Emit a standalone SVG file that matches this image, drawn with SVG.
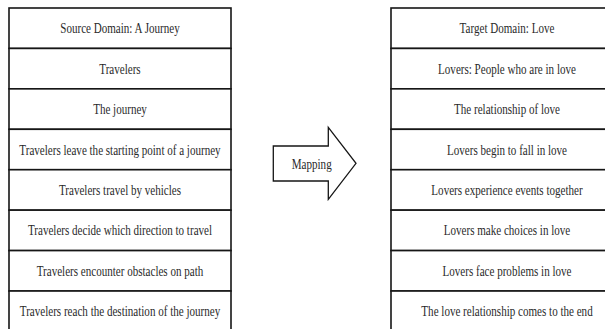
<svg xmlns="http://www.w3.org/2000/svg" width="605" height="329" viewBox="0 0 605 329">
  <style>
    .cell { fill: #ffffff; stroke: #161616; stroke-width: 1.6; }
    .lbl { font-family: 'Liberation Serif', 'DejaVu Serif', serif; font-size: 14px; text-anchor: middle; fill: #2a2a2a; }
    .arrow { fill: #ffffff; stroke: #161616; stroke-width: 1.3; stroke-linejoin: miter; }
  </style>
  <rect x="0" y="0" width="605" height="329" fill="#ffffff"/>

  <g id="source">
    <g id="s0"><rect class="cell" x="9" y="8" width="222" height="40.43"/><text class="lbl" transform="translate(120 33.2) scale(0.79 1)">Source Domain: A Journey</text></g>
    <g id="s1"><rect class="cell" x="9" y="48.43" width="222" height="40.43"/><text class="lbl" transform="translate(120 73.6) scale(0.79 1)">Travelers</text></g>
    <g id="s2"><rect class="cell" x="9" y="88.86" width="222" height="40.43"/><text class="lbl" transform="translate(120 114.1) scale(0.79 1)">The journey</text></g>
    <g id="s3"><rect class="cell" x="9" y="129.29" width="222" height="40.43"/><text class="lbl" transform="translate(120 154.5) scale(0.79 1)">Travelers leave the starting point of a journey</text></g>
    <g id="s4"><rect class="cell" x="9" y="169.72" width="222" height="40.43"/><text class="lbl" transform="translate(120 194.9) scale(0.79 1)">Travelers travel by vehicles</text></g>
    <g id="s5"><rect class="cell" x="9" y="210.15" width="222" height="40.43"/><text class="lbl" transform="translate(120 235.4) scale(0.79 1)">Travelers decide which direction to travel</text></g>
    <g id="s6"><rect class="cell" x="9" y="250.58" width="222" height="40.43"/><text class="lbl" transform="translate(120 275.8) scale(0.79 1)">Travelers encounter obstacles on path</text></g>
    <g id="s7"><rect class="cell" x="9" y="291.01" width="222" height="40.43"/><text class="lbl" transform="translate(120 316.2) scale(0.79 1)">Travelers reach the destination of the journey</text></g>
  </g>

  <g id="target">
    <g id="t0"><rect class="cell" x="391" y="8" width="232" height="40.43"/><text class="lbl" transform="translate(507 33.2) scale(0.79 1)">Target Domain: Love</text></g>
    <g id="t1"><rect class="cell" x="391" y="48.43" width="232" height="40.43"/><text class="lbl" transform="translate(507 73.6) scale(0.79 1)">Lovers: People who are in love</text></g>
    <g id="t2"><rect class="cell" x="391" y="88.86" width="232" height="40.43"/><text class="lbl" transform="translate(507 114.1) scale(0.79 1)">The relationship of love</text></g>
    <g id="t3"><rect class="cell" x="391" y="129.29" width="232" height="40.43"/><text class="lbl" transform="translate(507 154.5) scale(0.79 1)">Lovers begin to fall in love</text></g>
    <g id="t4"><rect class="cell" x="391" y="169.72" width="232" height="40.43"/><text class="lbl" transform="translate(507 194.9) scale(0.79 1)">Lovers experience events together</text></g>
    <g id="t5"><rect class="cell" x="391" y="210.15" width="232" height="40.43"/><text class="lbl" transform="translate(507 235.4) scale(0.79 1)">Lovers make choices in love</text></g>
    <g id="t6"><rect class="cell" x="391" y="250.58" width="232" height="40.43"/><text class="lbl" transform="translate(507 275.8) scale(0.79 1)">Lovers face problems in love</text></g>
    <g id="t7"><rect class="cell" x="391" y="291.01" width="232" height="40.43"/><text class="lbl" transform="translate(507 316.2) scale(0.79 1)">The love relationship comes to the end</text></g>
  </g>

  <g id="connectors">
    <g id="mapping">
      <polygon class="arrow" points="273.3,146 328.3,146 328.3,127.3 356,163.3 328.3,199.3 328.3,181 273.3,181"/>
      <text class="lbl" transform="translate(311.7 168.6) scale(0.79 1)">Mapping</text>
    </g>
  </g>
</svg>
